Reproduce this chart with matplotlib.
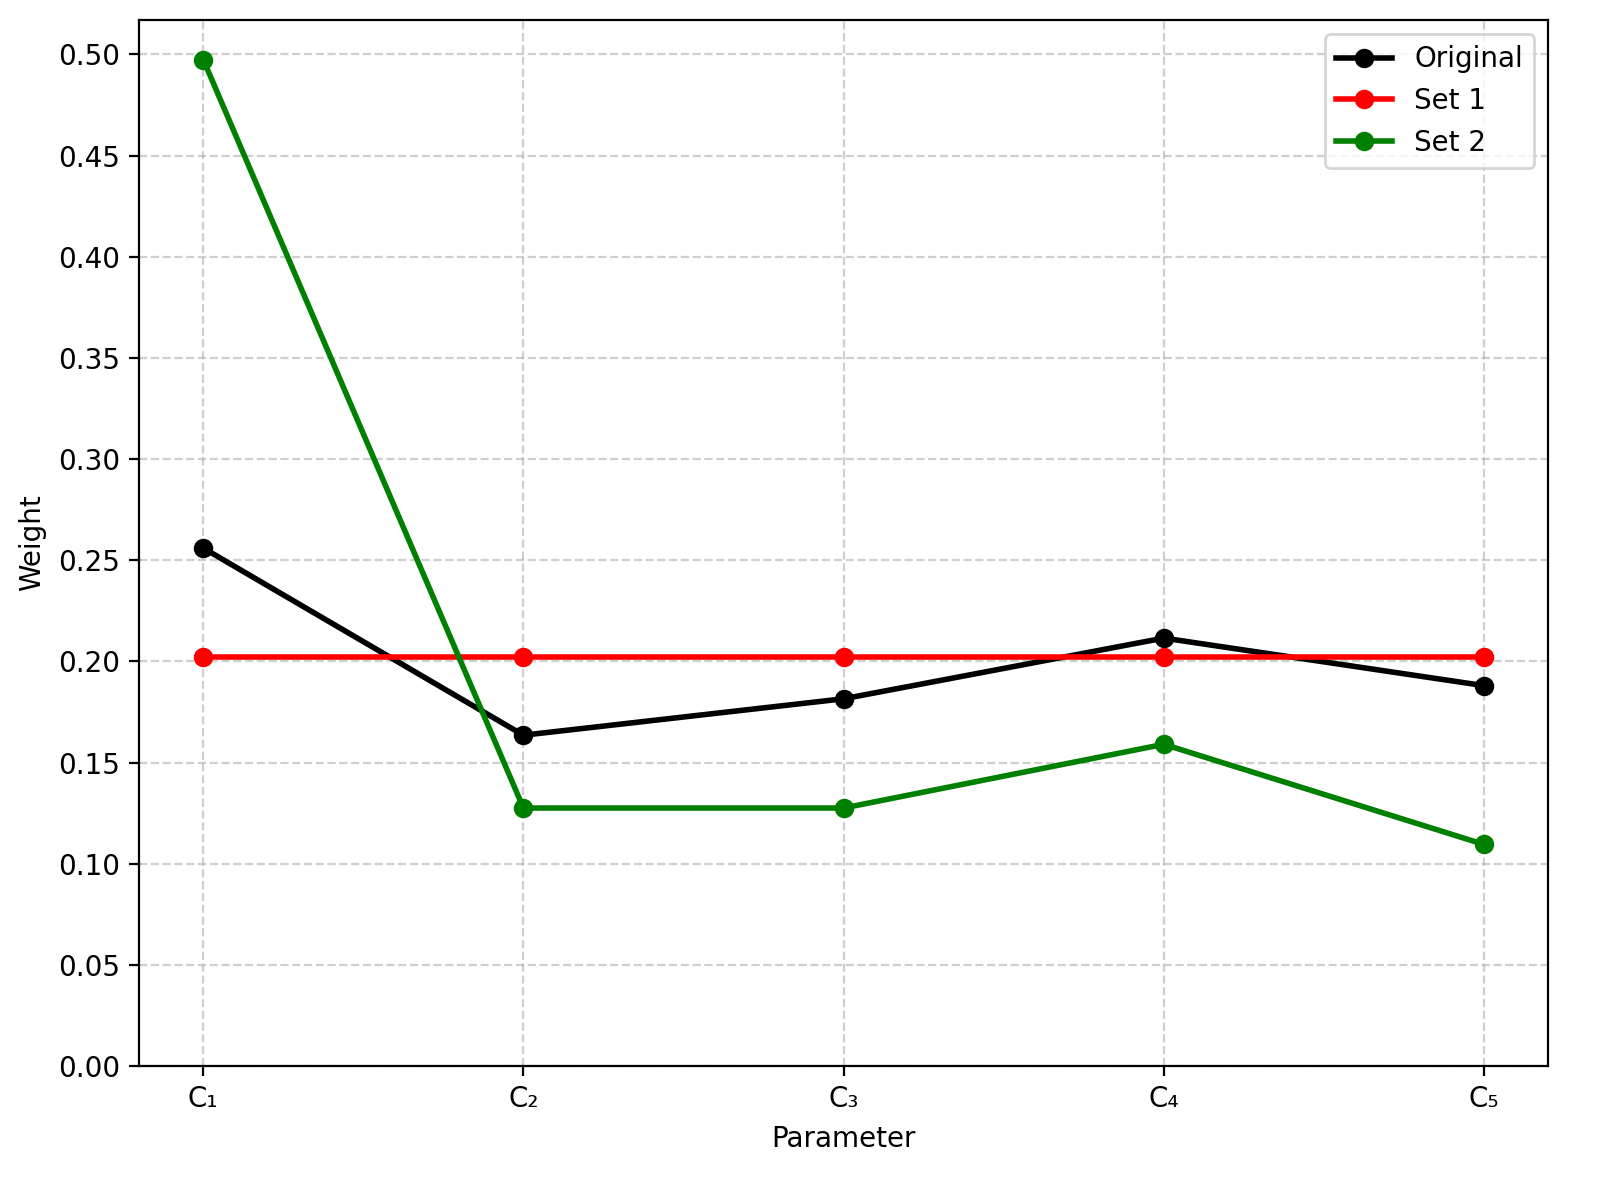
import matplotlib
matplotlib.use("Agg")
import matplotlib.pyplot as plt
from matplotlib.ticker import MultipleLocator, FormatStrFormatter

params = ["C\u2081", "C\u2082", "C\u2083", "C\u2084", "C\u2085"]
original = [0.256, 0.1635, 0.1815, 0.2115, 0.188]
set1 = [0.202, 0.202, 0.202, 0.202, 0.202]
set2 = [0.4975, 0.1275, 0.1275, 0.159, 0.1095]

fig, ax = plt.subplots(figsize=(8, 5.965), dpi=200)
fig.subplots_adjust(left=0.087, right=0.9675, top=0.983, bottom=0.1065)

x = range(len(params))
ax.plot(x, original, color="black", marker="o", linewidth=2, label="Original")
ax.plot(x, set1, color="red", marker="o", linewidth=2, label="Set 1")
ax.plot(x, set2, color="green", marker="o", linewidth=2, label="Set 2")

ax.set_xticks(list(x))
ax.set_xticklabels(params)
ax.set_ylim(bottom=0)
ax.yaxis.set_major_locator(MultipleLocator(0.05))
ax.yaxis.set_major_formatter(FormatStrFormatter("%.2f"))
ax.set_xlabel("Parameter")
ax.set_ylabel("Weight")
ax.grid(True, linestyle="--", alpha=0.6)
ax.legend(loc="upper right")

fig.savefig("out.png")
